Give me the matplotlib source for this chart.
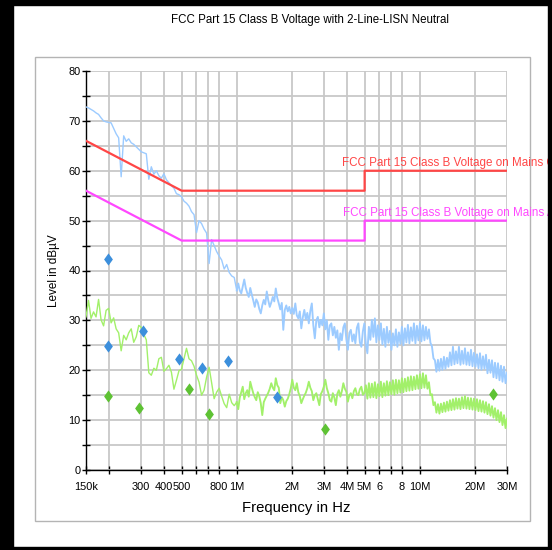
import numpy as np
import matplotlib
matplotlib.use("Agg")
import matplotlib.pyplot as plt
from matplotlib.patches import Rectangle

plt.rcParams['font.family'] = ['Liberation Sans', 'DejaVu Sans']

title = "FCC Part 15 Class B Voltage with 2-Line-LISN Neutral"
xlabel = "Frequency in Hz"
ylabel = "Level in dB\u00b5V"

# limit lines (MHz, dBuV)
qp_limit_f = [0.15, 0.5, 5.0, 5.0, 30.0]
qp_limit_db = [66, 56, 56, 60, 60]
av_limit_f = [0.15, 0.5, 5.0, 5.0, 30.0]
av_limit_db = [56, 46, 46, 50, 50]
qp_label = "FCC Part 15 Class B Voltage on Mains QP"
av_label = "FCC Part 15 Class B Voltage on Mains AV"

# ---- sweep part 1: 150 kHz .. 1 MHz (log-spaced bins) ----
peak_lo_db = [
    72.8, 72.6, 72.3, 72.0, 71.6, 71.3, 70.6, 70.0, 69.8, 69.7,
    69.6, 68.5, 67.4, 66.6, 58.8, 67.0, 65.9, 66.4, 65.6, 65.3,
    64.8, 64.3, 63.8, 63.6, 63.4, 58.3, 60.8, 59.3, 60.0, 59.0,
    58.5, 59.4, 58.2, 57.6, 57.0, 56.5, 55.4, 55.2, 54.8, 53.9,
    53.5, 52.9, 51.8, 51.2, 47.6, 50.0, 49.4, 48.3, 47.5, 41.4,
    46.2, 45.0, 43.8, 42.9, 42.1, 40.3, 41.2, 39.6, 38.9, 38.6,
    36.0,
]
avg_lo_db = [
    30.7, 34.0, 30.4, 31.7, 30.7, 34.2, 30.1, 28.9, 32.0, 32.4,
    29.5, 30.5, 28.3, 27.5, 23.9, 27.0, 26.1, 27.5, 28.3, 25.6,
    26.7, 29.0, 28.6, 27.2, 26.1, 19.5, 19.0, 20.4, 20.0, 22.3,
    22.6, 19.8, 20.3, 21.0, 19.6, 16.2, 18.0, 19.9, 20.2, 22.3,
    24.4, 22.3, 21.9, 20.8, 19.0, 17.6, 15.0, 16.0, 18.6, 20.6,
    17.5, 14.3, 15.6, 16.4, 14.8, 13.3, 12.5, 15.2, 13.5, 12.9,
    13.6,
]

# ---- sweep part 2: 1 MHz .. 30 MHz (log-spaced bins, finer) ----
peak_hi_db = [
    36.0, 37.4, 36.0, 35.4, 36.8, 38.2, 36.5, 35.5, 34.7, 36.5,
    35.2, 34.0, 32.7, 34.2, 33.6, 32.3, 31.4, 33.0, 34.1, 33.2,
    35.8, 34.0, 32.7, 33.6, 34.7, 33.8, 36.4, 34.5, 33.4, 32.2,
    33.5, 28.1, 32.1, 33.0, 31.8, 32.7, 31.4, 32.5, 31.3, 33.4,
    31.0, 30.4, 31.8, 28.4, 30.6, 32.1, 30.2, 31.5, 29.4, 31.9,
    33.4, 29.0, 26.4, 30.0, 30.7, 28.6, 30.1, 29.0, 31.4, 28.2,
    30.0, 26.1, 29.0, 29.4, 27.0, 28.7, 26.5, 28.0, 24.1, 27.4,
    26.0, 28.6, 29.4, 26.2, 24.1, 27.5, 28.1, 25.8, 27.2, 25.4,
    28.5, 29.4, 25.6, 24.7, 27.8, 29.4, 25.2, 23.4, 28.7, 26.1,
    30.1, 26.7, 30.4, 25.6, 29.0, 26.1, 29.4, 25.2, 28.3, 24.7,
    28.7, 25.5, 27.9, 24.1, 27.4, 25.0, 28.2, 24.7, 27.6, 25.3,
    28.7, 25.0, 28.4, 25.6, 29.1, 25.4, 28.6, 25.9, 29.4, 25.4,
    28.9, 26.0, 29.4, 25.8, 29.0, 26.0, 28.7, 26.3, 28.2, 25.5,
    24.8, 22.4, 22.0, 19.7, 22.1, 19.9, 22.3, 20.1, 22.7, 20.3,
    22.5, 20.7, 23.6, 21.0, 24.7, 21.2, 23.8, 21.4, 24.7, 21.1,
    23.9, 21.3, 24.4, 21.1, 23.6, 21.0, 24.1, 20.8, 23.5, 20.7,
    23.2, 20.4, 23.4, 20.1, 22.8, 20.3, 23.1, 19.4, 22.1, 19.5,
    22.0, 18.6, 21.5, 18.4, 21.4, 18.0, 20.9, 17.7, 20.7, 17.4,
    19.5,
]
avg_hi_db = [
    13.6, 12.2, 14.5, 15.6, 16.7, 14.2, 15.4, 16.0, 14.7, 17.7,
    16.5, 15.4, 14.6, 14.0, 15.6, 14.8, 13.4, 11.0, 13.6, 14.3,
    14.9, 15.5, 16.3, 17.4, 16.5, 16.0, 18.4, 17.0, 16.5, 13.4,
    14.6, 14.0, 12.7, 13.8, 14.3, 15.2, 16.4, 18.1, 16.5, 16.0,
    17.4, 15.6, 14.8, 13.4, 14.2, 14.9, 15.5, 16.4, 17.7, 16.5,
    15.8, 14.0, 15.0, 15.4, 14.2, 13.0, 15.2, 15.8, 16.7, 18.1,
    16.4, 15.4, 14.0, 13.7, 15.4, 14.5, 13.0, 15.3, 16.0, 14.7,
    15.8, 17.4, 16.3, 15.7, 13.7, 15.0, 15.4, 14.4, 15.8, 16.4,
    15.2, 15.0, 16.2, 16.7, 15.1, 15.4, 17.0, 14.3, 17.4, 14.5,
    17.3, 14.6, 17.6, 14.4, 17.2, 14.8, 17.7, 14.6, 17.4, 14.9,
    17.8, 15.0, 17.6, 15.2, 18.0, 15.1, 18.1, 15.4, 18.0, 15.5,
    18.4, 15.6, 18.3, 15.8, 18.6, 15.9, 18.8, 16.0, 18.7, 16.2,
    19.0, 16.3, 19.2, 16.4, 19.4, 16.5, 19.0, 16.3, 17.6, 15.0,
    15.2, 13.0, 13.6, 11.5, 13.2, 11.3, 13.3, 11.6, 13.5, 11.7,
    13.7, 11.9, 14.0, 12.0, 14.2, 12.1, 14.4, 12.3, 14.3, 12.2,
    14.6, 12.4, 14.8, 12.3, 14.5, 12.2, 14.4, 12.1, 14.3, 12.0,
    14.2, 11.8, 14.0, 11.7, 13.8, 11.5, 13.6, 11.2, 13.2, 10.9,
    12.8, 10.5, 12.4, 10.0, 12.0, 9.6, 11.6, 9.0, 11.0, 8.4,
    10.3,
]

# final measurement points (MHz, dBuV)
qp_points_f = [0.199, 0.199, 0.308, 0.482, 0.643, 0.896, 1.657]
qp_points_db = [42.3, 24.8, 27.9, 22.3, 20.5, 21.9, 14.7]
av_points_f = [0.199, 0.291, 0.546, 0.708, 3.03, 25.3]
av_points_db = [14.9, 12.4, 16.3, 11.2, 8.3, 15.3]

xtick_vals = [0.15, 0.2, 0.3, 0.4, 0.5, 0.6, 0.7, 0.8, 1, 2, 3, 4, 5, 6, 7, 8, 10, 20, 30]
xtick_labels = ["150k", "", "300", "400", "500", "", "", "800", "1M", "2M", "3M",
                "4M", "5M", "6", "", "8", "10M", "20M", "30M"]

PEAK_C = "#9ccbff"
AVG_C = "#a2f06a"

W, H = 552, 550
fig = plt.figure(figsize=(W / 100, H / 100), dpi=100)
fig.patch.set_facecolor("white")

# inner grey frame
fig.add_artist(Rectangle((35 / W, 1 - 521 / H), (530 - 35) / W, (521 - 57) / H,
                         transform=fig.transFigure, fill=False,
                         edgecolor="#b4b4b4", linewidth=1.0, zorder=0))

ax = fig.add_axes([86 / W, 80 / H, (507 - 86) / W, (470 - 71) / H])
ax.set_xscale("log")
ax.set_xlim(0.15, 30)
ax.set_ylim(0, 80)

f_lo = np.geomspace(0.15, 1.0, len(peak_lo_db))
f_hi = np.geomspace(1.0, 30.0, len(peak_hi_db))
ax.plot(f_lo, peak_lo_db, color=PEAK_C, lw=1.0, zorder=3)
ax.plot(f_lo, avg_lo_db, color=AVG_C, lw=1.0, zorder=3)
ax.plot(f_hi, peak_hi_db, color=PEAK_C, lw=1.35, zorder=3)
ax.plot(f_hi, avg_hi_db, color=AVG_C, lw=1.35, zorder=3)

ax.plot(qp_limit_f, qp_limit_db, color="#ff4646", lw=1.6, zorder=4)
ax.plot(av_limit_f, av_limit_db, color="#ff48ff", lw=1.6, zorder=4)
ax.text(3.75, 61.6, qp_label, color="#ff4646", fontsize=8.4, va="center",
        ha="left", clip_on=False)
ax.text(3.8, 51.5, av_label, color="#ff48ff", fontsize=8.4, va="center",
        ha="left", clip_on=False)

dia = [(0, 1), (0.72, 0), (0, -1), (-0.72, 0), (0, 1)]
ax.plot(qp_points_f, qp_points_db, linestyle="none", marker=dia, ms=8.8,
        color="#3c8fdc", markeredgewidth=0, zorder=5)
ax.plot(av_points_f, av_points_db, linestyle="none", marker=dia, ms=8.8,
        color="#5ec234", markeredgewidth=0, zorder=5)

ax.set_xticks(xtick_vals)
ax.set_xticklabels(xtick_labels)
ax.xaxis.set_minor_locator(matplotlib.ticker.NullLocator())
ax.set_yticks(np.arange(0, 81, 5))
ax.set_yticklabels([str(v) if v % 10 == 0 else "" for v in range(0, 81, 5)])
ax.grid(True, color="#c8c8c8", lw=1.3, zorder=0)
ax.set_axisbelow(True)
for s in ["top", "right"]:
    ax.spines[s].set_visible(False)
for s in ["left", "bottom"]:
    ax.spines[s].set_linewidth(1.0)
    ax.spines[s].set_color("black")
ax.tick_params(axis="both", direction="inout", length=6, width=1.0,
               labelsize=7.9, colors="black")
ax.tick_params(axis="x", pad=6)
ax.tick_params(axis="y", pad=1)

ax.set_xlabel(xlabel, fontsize=10.7, labelpad=6)
ax.set_ylabel(ylabel, fontsize=8.5, labelpad=6)
fig.text(310 / W, 1 - 20 / H, title, fontsize=8.3, ha="center", va="center")

# black outer border
for (x0, y0, w, h) in [(0, 0, 13, H), (0, 0, W, 5), (W - 4, 0, 4, H), (0, H - 3, W, 3)]:
    fig.add_artist(Rectangle((x0 / W, 1 - (y0 + h) / H), w / W, h / H,
                             transform=fig.transFigure, color="black", zorder=10))

fig.savefig("out.png", dpi=100)
